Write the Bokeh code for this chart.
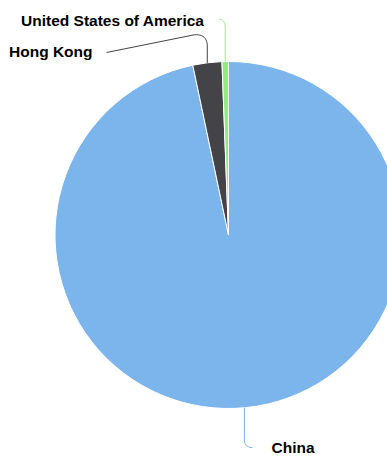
import numpy as np
from bokeh.plotting import figure
from bokeh.models import Range1d, ColumnDataSource
from bokeh.embed import file_html
from bokeh.resources import INLINE
from bokeh.core.properties import value

# ---- data ----
names = ["China", "Hong Kong", "United States of America"]
shares = [96.7, 2.7, 0.6]
colors = ["#7cb5ec", "#434348", "#90ed7d"]

W, H = 387, 456
p = figure(width=W, height=H, output_backend="svg", toolbar_location=None,
           x_range=Range1d(0, W), y_range=Range1d(-H, 0), min_border=0)
p.axis.visible = False
p.grid.visible = False
p.outline_line_color = None
p.background_fill_color = "white"

cx, cy, r = 228.0, -234.5, 173.5
frac = np.array(shares) / sum(shares)
cum = np.concatenate([[0.0], np.cumsum(frac)])
start = np.pi / 2 - 2 * np.pi * cum[:-1]
end = np.pi / 2 - 2 * np.pi * cum[1:]
src = ColumnDataSource(dict(x=[cx] * 3, y=[cy] * 3, s=start, e=end, c=colors))
p.wedge(x="x", y="y", radius=r, start_angle="s", end_angle="e", direction="clock",
        fill_color="c", line_color="white", line_width=1, source=src)

mid = (cum[:-1] + cum[1:]) / 2 * 2 * np.pi  # clockwise from top
ex = cx + r * np.sin(mid)
ey = -(cy + r * np.cos(mid))  # screen y (down)


def quad(p0, c, p2, n=12):
    t = np.linspace(0, 1, n)[:, None]
    p0, c, p2 = map(np.array, (p0, c, p2))
    return ((1 - t) ** 2 * p0 + 2 * (1 - t) * t * c + t ** 2 * p2)


font = value("Liberation Sans")

# connector + label layout (screen coords)
paths = []
labels = []
# China
x0, y0 = ex[0] - 2, ey[0]
pts = np.vstack([[x0, y0], [x0, y0 + 32], quad((x0, y0 + 32), (x0, y0 + 40), (x0 + 8, y0 + 40))])
paths.append(pts)
labels.append((271, 447, "left"))
# Hong Kong
x1, y1 = ex[1], ey[1]
pts = np.vstack([[x1, y1], [x1, y1 - 18], quad((x1, y1 - 18), (x1 - 1, y1 - 29), (x1 - 13, y1 - 28)), [106, 52]])
paths.append(pts)
labels.append((92, 51, "right"))
# USA
x2, y2 = ex[2], ey[2]
pts = np.vstack([[x2, y2], [x2, 27], quad((x2, 27), (x2, 19), (x2 - 6, 19))])
paths.append(pts)
labels.append((204, 20, "right"))

for pts, c in zip(paths, colors):
    p.line(pts[:, 0], -pts[:, 1], line_color=c, line_width=1)

for (lx, ly, al), name in zip(labels, names):
    p.text(x=[lx], y=[-ly], text=[name], text_font=font, text_font_style="bold",
           text_font_size="15.5px", text_baseline="alphabetic", text_align=al, text_color="#000000")

open("out.html", "w").write(file_html(p, INLINE))
